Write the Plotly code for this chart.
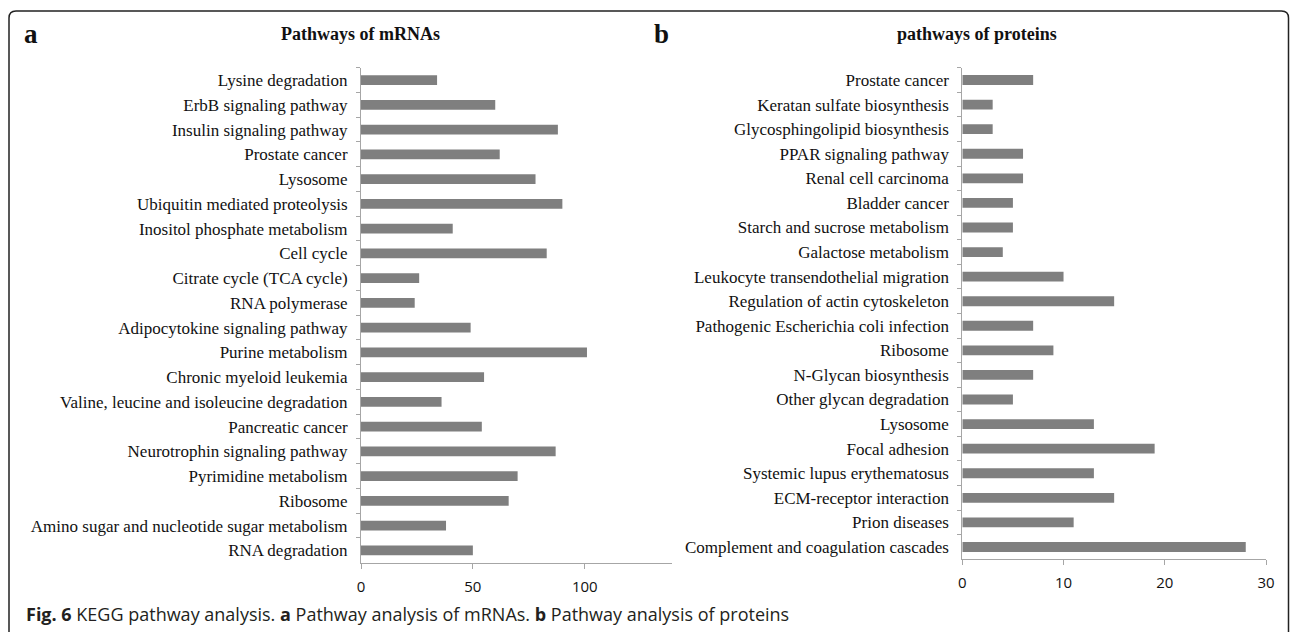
import plotly.graph_objects as go

W, H = 1290, 632

mrna_labels = [
    "Lysine degradation", "ErbB signaling pathway", "Insulin signaling pathway",
    "Prostate cancer", "Lysosome", "Ubiquitin mediated proteolysis",
    "Inositol phosphate metabolism", "Cell cycle", "Citrate cycle (TCA cycle)",
    "RNA polymerase", "Adipocytokine signaling pathway", "Purine metabolism",
    "Chronic myeloid leukemia", "Valine, leucine and isoleucine degradation",
    "Pancreatic cancer", "Neurotrophin signaling pathway", "Pyrimidine metabolism",
    "Ribosome", "Amino sugar and nucleotide sugar metabolism", "RNA degradation",
]
mrna_values = [34, 60, 88, 62, 78, 90, 41, 83, 26, 24, 49, 101, 55, 36, 54, 87, 70, 66, 38, 50]

protein_labels = [
    "Prostate cancer", "Keratan sulfate biosynthesis", "Glycosphingolipid biosynthesis",
    "PPAR signaling pathway", "Renal cell carcinoma", "Bladder cancer",
    "Starch and sucrose metabolism", "Galactose metabolism",
    "Leukocyte transendothelial migration", "Regulation of actin cytoskeleton",
    "Pathogenic Escherichia coli infection", "Ribosome", "N-Glycan biosynthesis",
    "Other glycan degradation", "Lysosome", "Focal adhesion",
    "Systemic lupus erythematosus", "ECM-receptor interaction", "Prion diseases",
    "Complement and coagulation cascades",
]
protein_values = [7, 3, 3, 6, 6, 5, 5, 4, 10, 15, 7, 9, 7, 5, 13, 19, 13, 15, 11, 28]

mrna_ticks = [0, 50, 100]
protein_ticks = [0, 10, 20, 30]

BAR = "#7f7f7f"
AX = "#a6a6a6"
SERIF = "Liberation Serif, Times New Roman, serif"
SANS = "Open Sans, sans-serif"


def px(x):
    return x / W


def py(y):
    return 1 - y / H


fig = go.Figure()
fig.add_trace(go.Bar(x=mrna_values, y=mrna_labels, orientation="h",
                     marker=dict(color=BAR, line=dict(width=0)),
                     xaxis="x", yaxis="y", showlegend=False))
fig.add_trace(go.Bar(x=protein_values, y=protein_labels, orientation="h",
                     marker=dict(color=BAR, line=dict(width=0)),
                     xaxis="x2", yaxis="y2", showlegend=False))

xcommon = dict(showgrid=False, zeroline=False, showline=True, linecolor=AX, linewidth=1,
               ticks="outside", ticklen=5, tickcolor=AX, tickwidth=1,
               tickfont=dict(family=SANS, size=15, color="#111"),
               ticklabelstandoff=5, fixedrange=True)
ycommon = dict(showgrid=False, zeroline=False, showline=True, linecolor=AX, linewidth=1,
               ticks="outside", ticklen=4, tickcolor=AX, tickwidth=1, tickson="boundaries",
               type="category", autorange="reversed",
               tickfont=dict(family=SERIF, size=17, color="#111"),
               ticklabelstandoff=9, fixedrange=True)

fig.update_layout(
    width=W, height=H,
    margin=dict(l=0, r=0, t=0, b=0, autoexpand=False),
    paper_bgcolor="white", plot_bgcolor="white",
    bargap=0.6,
    xaxis=dict(domain=[px(361), px(672)], range=[0, 139], tickvals=mrna_ticks,
               anchor="y", **xcommon),
    yaxis=dict(domain=[py(562.7), py(67.7)], anchor="x",
               categoryorder="array", categoryarray=mrna_labels, **ycommon),
    xaxis2=dict(domain=[px(962.3), px(1266)], range=[0, 30], tickvals=protein_ticks,
                anchor="y2", **xcommon),
    yaxis2=dict(domain=[py(559.3), py(67.7)], anchor="x2",
                categoryorder="array", categoryarray=protein_labels, **ycommon),
)

annotations = [
    dict(text="<b>Pathways of mRNAs</b>", x=px(361), y=py(34), font=dict(family=SERIF, size=18, color="#111")),
    dict(text="<b>pathways of proteins</b>", x=px(977), y=py(34), font=dict(family=SERIF, size=18, color="#111")),
    dict(text="<b>a</b>", x=px(31), y=py(34), font=dict(family=SERIF, size=27, color="#111")),
    dict(text="<b>b</b>", x=px(661), y=py(34), font=dict(family=SERIF, size=27, color="#111")),
]
for a in annotations:
    a.update(xref="paper", yref="paper", showarrow=False, xanchor="center", yanchor="middle")
annotations.append(dict(
    text="<b>Fig. 6</b> KEGG pathway analysis. <b>a</b> Pathway analysis of mRNAs. <b>b</b> Pathway analysis of proteins",
    x=px(24), y=py(614), xref="paper", yref="paper", showarrow=False,
    xanchor="left", yanchor="middle", font=dict(family=SANS, size=18, color="#231f20")))
fig.update_layout(annotations=annotations)

# rounded frame around the figure panel
r = 7
path = (f"M {px(1288.5)},{py(640)} L {px(1288.5)},{py(11 + r)} "
        f"Q {px(1288.5)},{py(11)} {px(1288.5 - r)},{py(11)} "
        f"L {px(9 + r)},{py(11)} Q {px(9)},{py(11)} {px(9)},{py(11 + r)} "
        f"L {px(9)},{py(640)}")
fig.add_shape(type="path", path=path, xref="paper", yref="paper",
              line=dict(color="#222", width=1.5))

fig.write_html("out.html", config={"displayModeBar": False},
               post_script="document.body.style.margin='0';document.body.style.overflow='hidden';")
